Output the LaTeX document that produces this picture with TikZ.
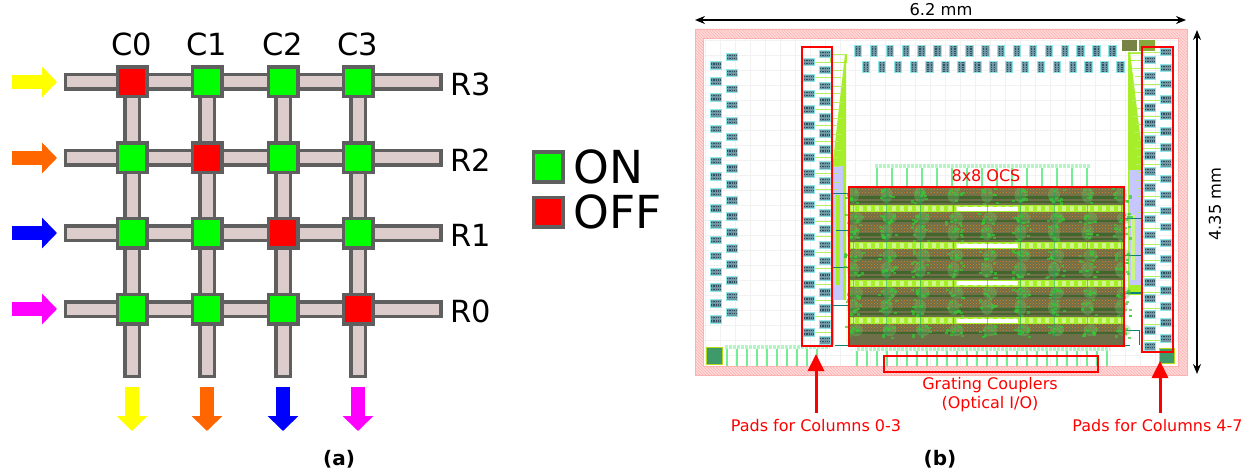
\documentclass[tikz,border=0pt]{standalone}
\usepackage{fontspec}
\setmainfont{DejaVu Sans}
\usetikzlibrary{arrows.meta,patterns}
\definecolor{wgline}{HTML}{5F5F5F}
\definecolor{wgfill}{HTML}{DCCCCC}
\definecolor{onclr}{HTML}{00FF00}
\definecolor{offclr}{HTML}{FF0000}
\definecolor{floway}{HTML}{FFFF00}
\definecolor{flowor}{HTML}{FF6600}
\definecolor{flowbl}{HTML}{0000FF}
\definecolor{flowmg}{HTML}{FF00FF}
\definecolor{limeclr}{HTML}{A6EE2A}
\definecolor{stubclr}{HTML}{B4F060}
\definecolor{padclr}{HTML}{6F98A4}
\definecolor{paddark}{HTML}{2F4F60}
\definecolor{padedge}{HTML}{8FE6E6}
\definecolor{tickclr}{HTML}{74EE94}
\definecolor{tealclr}{HTML}{0F7F78}
\definecolor{hatchclr}{HTML}{FFDADA}
\definecolor{cellclr}{HTML}{6F7049}
\definecolor{cellgr}{HTML}{66C766}
\newcommand{\fsz}[1]{\fontsize{#1}{#1}\selectfont}
\begin{document}
\begin{tikzpicture}[x=1pt,y=-1pt]
\tikzstyle{wg}=[wgline,line width=3.5pt,double=wgfill,double distance=11pt,line cap=rect]
\tikzstyle{sw}=[rectangle,draw=wgline,line width=3.5pt,minimum size=29.5pt,inner sep=0pt]
\tikzstyle{flow}=[line width=14pt,-{Triangle[length=15pt,width=30pt]}]
\tikzstyle{lbl}=[font=\fsz{30.5},inner sep=0pt]
\tikzstyle{redlbl}=[font=\fsz{16},text=red,inner sep=0pt,align=center]
\tikzstyle{dimlbl}=[font=\fsz{16.3},inner sep=0pt]
\tikzstyle{dim}=[black,line width=1.3pt,{Stealth[length=10pt,width=8pt]}-{Stealth[length=10pt,width=8pt]}]
\tikzstyle{redbox}=[red,line width=1.4pt]
\tikzstyle{redarr}=[red,line width=3pt,-{Triangle[length=17pt,width=16pt]}]
\tikzstyle{padh}=[rectangle,draw=padedge,fill=padclr,line width=0.9pt,minimum width=11.5pt,minimum height=7.5pt,inner sep=0pt,
  path picture={\draw[paddark,line width=1.2pt,dash pattern=on 1.4pt off 0.9pt] (path picture bounding box.center)+(-5,-1.6) -- +(5,-1.6) +(-5,1.6) -- +(5,1.6);}]
\tikzstyle{padv}=[rectangle,draw=padedge,fill=padclr,line width=0.9pt,minimum width=7.5pt,minimum height=10.5pt,inner sep=0pt,
  path picture={\draw[paddark,line width=1.2pt,dash pattern=on 1.4pt off 0.9pt] (path picture bounding box.center)+(-1.6,-5) -- +(-1.6,5) +(1.6,-5) -- +(1.6,5);}]
\tikzstyle{stub}=[stubclr,line width=0.9pt]
\tikzstyle{tick}=[tickclr,line width=1.1pt]
\tikzstyle{tickband}=[tickclr!55!white,line width=3.5pt,dash pattern=on 2.5pt off 1.5pt]
\useasboundingbox (0,0) rectangle (1256,476);
\foreach \c/\x in {0/132,1/207,2/283,3/358} {
  \coordinate (c\c t) at (\x,90);
  \coordinate (c\c b) at (\x,369);
  \draw[wg] (c\c t) -- (c\c b);
  \node[lbl] (cl\c) at (\x,44) {C\c};
}
\foreach \r/\y in {3/82,2/158,1/233,0/309} {
  \coordinate (r\r w) at (72.5,\y);
  \coordinate (r\r e) at (433.5,\y);
  \draw[wg] (r\r w) -- (r\r e);
  \node[lbl] (rl\r) at (471,\y+2) {R\r};
}
\foreach \r/\y in {3/82,2/158,1/233,0/309}
  \foreach \c/\x in {0/132,1/207,2/283,3/358} {
    \pgfmathparse{int(\r+\c==3 ? 1 : 0)}
    \ifnum\pgfmathresult=1
      \node[sw,fill=offclr] (s\r\c) at (\x,\y) {};
    \else
      \node[sw,fill=onclr] (s\r\c) at (\x,\y) {};
    \fi
  }
\foreach \r/\y/\clr in {3/82/floway,2/158/flowor,1/233/flowbl,0/309/flowmg} {
  \coordinate (in\r) at (12,\y);
  \coordinate (ine\r) at (57,\y);
  \draw[flow,\clr] (in\r) -- (ine\r);
}
\foreach \c/\x/\clr in {0/132/floway,1/207/flowor,2/283/flowbl,3/358/flowmg} {
  \coordinate (out\c) at (\x,387);
  \coordinate (oute\c) at (\x,431);
  \draw[flow,\clr] (out\c) -- (oute\c);
}
\node[sw,fill=onclr] (keyon) at (548,167) {};
\node[sw,fill=offclr] (keyoff) at (548,212) {};
\node[font=\fsz{45.5},anchor=west,inner sep=0pt] (onlbl) at (573,167) {ON};
\node[font=\fsz{45.5},anchor=west,inner sep=0pt] (offlbl) at (573,212) {OFF};
\node[font=\fsz{20}\bfseries,inner sep=0pt] (capa) at (339,459) {(a)};
\node[font=\fsz{20}\bfseries,inner sep=0pt] (capb) at (940,459) {(b)};
\foreach \x in {705,720,...,1175} \draw[black!5,line width=0.7pt] (\x,38) -- (\x,366);
\foreach \y in {40,55,...,365} \draw[black!5,line width=0.7pt] (703,\y) -- (1178,\y);
\fill[hatchclr,even odd rule] (695,29) rectangle (1187,375) (703,38) rectangle (1178,366);
\path[pattern=north west lines,pattern color=red!30,even odd rule] (695,29) rectangle (1187,375) (703,38) rectangle (1178,366);
\draw[red!30,line width=0.7pt] (695,29) rectangle (1187,375);
\draw[red!30,line width=0.7pt] (703,38) rectangle (1178,366);
\fill[limeclr] (845,54) -- (846,54) -- (846,345) -- (832,345) -- (832,170) -- cycle;
\fill[limeclr] (1128,52) -- (1130,52) -- (1142,150) -- (1142,300) -- (1128,300) -- cycle;
\fill[blue!22!white] (833,166) rectangle (843,300);
\fill[blue!22!white] (1129,170) rectangle (1141,285);
\fill[limeclr] (836,195) rectangle (840,285);
\fill[limeclr!60!white] (1131,215) rectangle (1135,280);
\fill[white] (1127,295) rectangle (1141,345);
\fill[white] (834,300) rectangle (846,345);
\foreach \y in {193,230,267,305} \draw[tealclr,line width=0.8pt] (832,\y) -- (849,\y);
\foreach \y in {218,255,293} \draw[tealclr,line width=0.8pt] (1124,\y) -- (1142,\y);
\draw[tealclr,line width=0.8pt] (1127,292) -- (1141,292) -- (1141,345);
\draw[tealclr,line width=0.8pt] (1125,330) -- (1139,330) -- (1139,345);
\draw[limeclr,line width=0.9pt] (830,54) rectangle (846,62);
\draw[limeclr,line width=0.9pt] (1128,53) rectangle (1142,60);
\foreach \i in {0,...,18} {
  \draw[stub] (825,54+16*\i) -- ({846-\i*0.9},54+16*\i);
  \draw[stub] (1166,52+16*\i) -- ({1130+\i*0.8},52+16*\i);
}
\foreach \i in {0,...,17} {
  \draw[stub] (809,62+15.9*\i) -- ({841-\i*0.5},62+15.9*\i);
  \draw[stub] (1150,60+16*\i) -- ({1134+\i*0.5},60+16*\i);
}
\foreach \i in {0,...,16} \node[padh] (pa\i) at (716,65.7+15.85*\i) {};
\foreach \i in {0,...,16} \node[padh] (pb\i) at (732,57+15.95*\i) {};
\foreach \i in {0,...,17} \node[padh] (pc\i) at (809,62+15.9*\i) {};
\foreach \i in {0,...,18} \node[padh] (pd\i) at (825,54+15.9*\i) {};
\foreach \i in {0,...,18} \node[padh] (pe\i) at (1150,60+15.9*\i) {};
\foreach \i in {0,...,18} \node[padh] (pf\i) at (1166,52+15.9*\i) {};
\foreach \i in {0,...,16} \node[padv] (pg\i) at (858+15.9*\i,51) {};
\foreach \i in {0,...,16} \node[padv] (ph\i) at (866+15.9*\i,67) {};
\fill[cellclr!85!limeclr] (1122,40) rectangle (1137,51);
\fill[cellclr!55!limeclr] (1139,40) rectangle (1155,51);
\filldraw[fill=tickclr!60!black!90!cyan,draw=yellow!70!green,line width=0.8pt] (706,347) rectangle (722,364);
\filldraw[fill=tickclr!60!black!90!cyan,draw=yellow!70!green,line width=0.8pt] (1159,348) rectangle (1174,363);
\draw[tickband] (875,166) -- (1090,166);
\foreach \x in {877,892,...,1090} \draw[tick] (\x,168) -- (\x,186);
\draw[tickband] (725,347) -- (830,347);
\foreach \x in {727,737,...,825} \draw[tick] (\x,349) -- (\x,366);
\draw[tickband] (857,349) -- (1110,349);
\foreach \x in {857,867,...,1108} \draw[tick] (\x,351) -- (\x,366);
\fill[cellclr] (849,187) rectangle (1124,346);
\pgfmathsetseed{11}
\foreach \r in {0,1,2,3} {
  \pgfmathsetmacro{\yr}{187+37.4*\r}
  \path[pattern=crosshatch dots,pattern color=orange!50!brown] (849,\yr) rectangle (1124,\yr+7);
  \path[pattern=crosshatch dots,pattern color=orange!50!brown] (849,\yr+25) rectangle (1124,\yr+31);
  \fill[green!35!black,opacity=0.4] (849,\yr+9) rectangle (1124,\yr+12);
  \fill[green!35!black,opacity=0.4] (849,\yr+14) rectangle (1124,\yr+16);
  \fill[green!35!black,opacity=0.4] (849,\yr+33) rectangle (1124,\yr+35);
  \fill[limeclr] (849,\yr+18) rectangle (1124,\yr+25);
  \foreach \k in {0,...,33} \fill[limeclr!55!white] ({851+8.1*\k},\yr+19) rectangle ({855+8.1*\k},\yr+24);
  \fill[white] (957,\yr+19.5) rectangle (1018,\yr+23.5);
  \foreach \c in {0,...,8} {
    \pgfmathsetmacro{\xc}{853+33.5*\c}
    \fill[cellgr,opacity=0.35] (\xc,\yr+8) ellipse (6 and 8);
    \fill[cellgr,opacity=0.35] (\xc+3,\yr+31) ellipse (7 and 6);
    \draw[tealclr!70!green,opacity=0.5,line width=0.6pt] (\xc,\yr) -- (\xc,\yr+37.4);
    \foreach \b in {1,...,16} {
      \pgfmathsetmacro{\bx}{\xc-9+18*rnd}
      \pgfmathsetmacro{\by}{\yr+1+(\b<9 ? 15 : 12)*rnd+(\b<9 ? 0 : 25)}
      \fill[green!60!gray,opacity=0.7] (\bx,\by) rectangle +(3,2.2);
    }
  }
}
\draw[tealclr,line width=1.6pt] (835,345.5) -- (1130,345.5);
\draw[redbox] (849,187) rectangle (1124,346);
\draw[redbox] (802,47) rectangle (832,346);
\draw[redbox] (1142,47) rectangle (1173,352);
\draw[redbox] (884,356) rectangle (1098,372);
\node[redlbl] (ocs) at (986,176) {8x8 OCS};
\node[redlbl] (gc) at (990,394.5) {Grating Couplers\\[3pt](Optical I/O)};
\node[redlbl] (pl) at (816,426) {Pads for Columns 0-3};
\node[redlbl] (pr) at (1157.5,426) {Pads for Columns 4-7};
\coordinate (plt) at (816,354);
\coordinate (prt) at (1160,361);
\draw[redarr] (pl.north -| plt) ++(0,-7) coordinate (plb) (plb) -- (plt);
\draw[redarr] (pr.north -| prt) ++(0,-7) coordinate (prb) (prb) -- (prt);
\coordinate (wl) at (695,20);
\coordinate (wr) at (1186,20);
\coordinate (ht) at (1197,30);
\coordinate (hb) at (1197,374);
\draw[dim] (wl) -- (wr);
\draw[dim] (ht) -- (hb);
\node[dimlbl] (wlbl) at (941,10) {6.2 mm};
\node[dimlbl,rotate=90] (hlbl) at (1215,204) {4.35 mm};
\end{tikzpicture}
\end{document}
